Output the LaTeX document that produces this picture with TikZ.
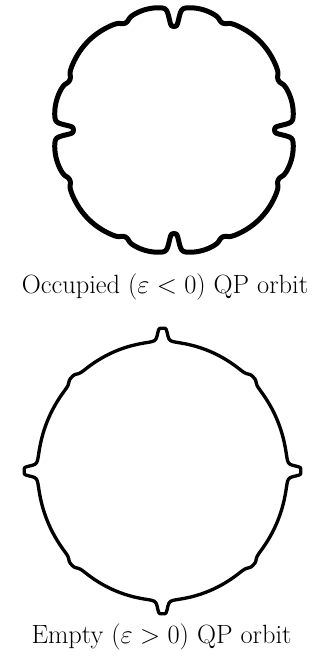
\RequirePackage{fix-cm}
\documentclass[tikz,border=0pt]{standalone}
\begin{document}
\begin{tikzpicture}[x=0.75pt, y=-0.75pt,
  declare function={
    qf(\x)=\x*\x*\x*\x;
    qs(\x)=\x*\x*\x*\x*\x*\x;
    fold(\t)=atan2(abs(sin(\t)),abs(cos(\t)));
    tb(\u)=ifthenelse(\u<25, 3.5*sin(7.2*\u), ifthenelse(\u<65, 4.5*sin(4.5*(\u-25)), 3.5*sin(7.2*(\u-65))));
    tdent(\u)=2.5/(1+qf(min(abs(\u-25)/2.5,8))) + 2.5/(1+qf(min(abs(\u-65)/2.5,8)));
    tnotch(\u)=17/(1+qs(min(min(\u,90-\u)/2.7,3)));
    toff(\u)=tb(\u)-tdent(\u)-tnotch(\u);
    bknob(\u)=12/(1+qs(min(min(\u,90-\u)/2.2,3))) + 1.5/(1+qf(min(min(\u,90-\u)/4,6)));
    bbump(\u)=3.5/(1+qf(min(abs(\u-45)/2.8,8)));
    boff(\u)=bknob(\u)+bbump(\u);
  },
  orbitA/.style={line width=3.75pt, line join=round, line cap=round},
  orbitB/.style={line width=2.5pt, line join=round, line cap=round},
  lbl/.style={inner sep=0pt, font=\fontsize{19.8}{24}\selectfont}
]
\useasboundingbox (0,0) rectangle (321,660);
\draw[orbitA] plot[domain=0:360, samples=2881, variable=\t]
  ({174+(117.5+toff(fold(\t)))*cos(\t)}, {130-(120.5+toff(fold(\t)))*sin(\t)}) -- cycle;
\draw[orbitB] plot[domain=0:360, samples=2881, variable=\t]
  ({162.5+(124.8+boff(fold(\t)))*cos(\t)}, {471-(129.3+boff(fold(\t)))*sin(\t)}) -- cycle;
\node[lbl, anchor=base] (occ) at (165,293) {Occupied ($\varepsilon<0$) QP orbit};
\node[lbl, anchor=base] (emp) at (161.5,643) {Empty ($\varepsilon>0$) QP orbit};
\end{tikzpicture}
\end{document}
